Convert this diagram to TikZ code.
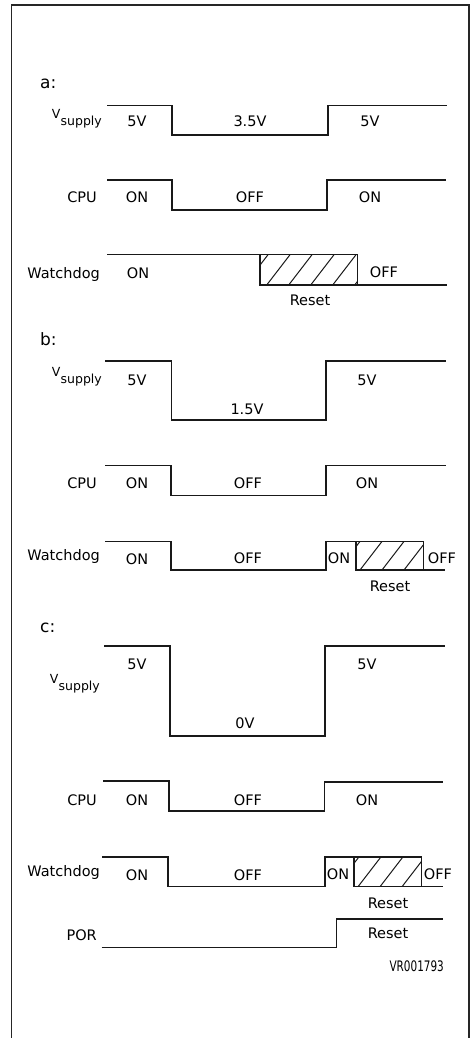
\documentclass[tikz,border=0pt]{standalone}
\usepackage{fontspec}
\setmainfont{DejaVu Sans}
\newcommand\vsupLbl{{\fontsize{12.5}{14}\selectfont\raisebox{6.5pt}{V}}\kern0.3pt{\fontsize{12.5}{14}\selectfont supply}}
\newcommand\hatchbox[5]{%
  \draw[wave] (#1,#2) rectangle (#3,#4);
  \begin{scope}
    \clip (#1,#2) rectangle (#3,#4);
    \foreach \k in {-1,...,5} \draw[hatchln] ({#5+\k*22},#4) -- ++({0.77*(#4-#2)},{-(#4-#2)});
  \end{scope}}
\begin{document}
\begin{tikzpicture}[x=1pt,y=-1pt,
  wave/.style={line width=1.1pt, line join=miter, draw=black!90},
  hatchln/.style={line width=1pt, draw=black!90},
  lbl/.style={font=\fontsize{14.5}{16}\selectfont, inner sep=0pt, anchor=base},
  rlbl/.style={lbl, anchor=base east},
  sec/.style={font=\fontsize{17}{19}\selectfont, inner sep=0pt, anchor=base west},
  frame/.style={line width=1.4pt, draw=black!85}]

\useasboundingbox (0,0) rectangle (474,1038);
\draw[frame] (11.5,1038) -- (11.5,5) -- (469,5) -- (469,1038);

% ---------------- a ----------------
\node[sec] (la) at (40,89) {a:};
\node[rlbl] (va) at (102,125) {\vsupLbl};
\draw[wave] (107,105.7) -- (172,105.7) -- (172,135) -- (328,135) -- (328,105.7) -- (446.7,105.7);
\node[lbl] (a5l) at (137,127) {5V};
\node[lbl] (a35) at (250,127) {3.5V};
\node[lbl] (a5r) at (370,127) {5V};

\node[rlbl] (acpu) at (97,202) {CPU};
\draw[wave] (107,180) -- (172,180) -- (172,210) -- (327,210) -- (327,180) -- (446,180);
\node[lbl] (aon1) at (137,202) {ON};
\node[lbl] (aoff) at (250,202) {OFF};
\node[lbl] (aon2) at (370,202) {ON};

\node[rlbl] (awd) at (100,278) {Watchdog};
\draw[wave] (107,254.3) -- (260,254.3);
\hatchbox{260}{254.3}{357.7}{285}{266.7}
\draw[wave] (357.7,285) -- (446.7,285);
\node[lbl] (awon) at (138,278) {ON};
\node[lbl] (awoff) at (384,277) {OFF};
\node[lbl] (arst) at (310,305) {Reset};

% ---------------- b ----------------
\node[sec] (lb) at (40,345) {b:};
\node[rlbl] (vb) at (102,383) {\vsupLbl};
\draw[wave] (105,361) -- (171.7,361) -- (171.7,420) -- (326,420) -- (326,361) -- (446,361);
\node[lbl] (b5l) at (137,385) {5V};
\node[lbl] (b15) at (247,414) {1.5V};
\node[lbl] (b5r) at (367,385) {5V};

\node[rlbl] (bcpu) at (97,488) {CPU};
\draw[wave] (105,465.7) -- (171,465.7) -- (171,495.7) -- (326,495.7) -- (326,465.7) -- (446,465.7);
\node[lbl] (bon1) at (137,488) {ON};
\node[lbl] (boff) at (248,488) {OFF};
\node[lbl] (bon2) at (367,488) {ON};

\node[rlbl] (bwd) at (100,560) {Watchdog};
\draw[wave] (105,541.7) -- (171,541.7) -- (171,570) -- (326,570) -- (326,541.7) -- (356,541.7);
\hatchbox{356}{541.7}{423.3}{570}{360}
\draw[wave] (423.3,570) -- (445,570);
\node[lbl] (bwon1) at (137,564) {ON};
\node[lbl] (bwoff1) at (248,563) {OFF};
\node[lbl] (bwon2) at (339,563) {ON};
\node[lbl] (bwoff2) at (442,563) {OFF};
\node[lbl] (brst) at (390,591.7) {Reset};

% ---------------- c ----------------
\node[sec] (lc) at (40,632) {c:};
\node[rlbl] (vc) at (100,690) {\vsupLbl};
\draw[wave] (104,646) -- (170,646) -- (170,736) -- (325,736) -- (325,646) -- (445,646);
\node[lbl] (c5l) at (137,669) {5V};
\node[lbl] (c0) at (245,728) {0V};
\node[lbl] (c5r) at (367,669) {5V};

\node[rlbl] (ccpu) at (97,805) {CPU};
\draw[wave] (103,781) -- (169,781) -- (169,811) -- (324.3,811) -- (324.3,782) -- (443,782);
\node[lbl] (con1) at (137,805) {ON};
\node[lbl] (coff) at (248,805) {OFF};
\node[lbl] (con2) at (367,805) {ON};

\node[rlbl] (cwd) at (100,876) {Watchdog};
\draw[wave] (102,857) -- (168,857) -- (168,886.7) -- (325,886.7) -- (325,857) -- (354,857);
\hatchbox{354}{857}{421.7}{886.7}{358}
\draw[wave] (421.7,886.7) -- (443,886.7);
\node[lbl] (cwon1) at (137,880) {ON};
\node[lbl] (cwoff1) at (248,880) {OFF};
\node[lbl] (cwon2) at (338,879) {ON};
\node[lbl] (cwoff2) at (438,879) {OFF};
\node[lbl] (crst) at (388,908) {Reset};

\node[rlbl] (por) at (97,940) {POR};
\draw[wave] (101.7,947.7) -- (336.7,947.7) -- (336.7,919) -- (443,919);
\node[lbl] (prst) at (388,938) {Reset};
\node[lbl] (vr) at (416.7,971.7) {\scalebox{0.72}[1]{VR001793}};
\end{tikzpicture}
\end{document}
